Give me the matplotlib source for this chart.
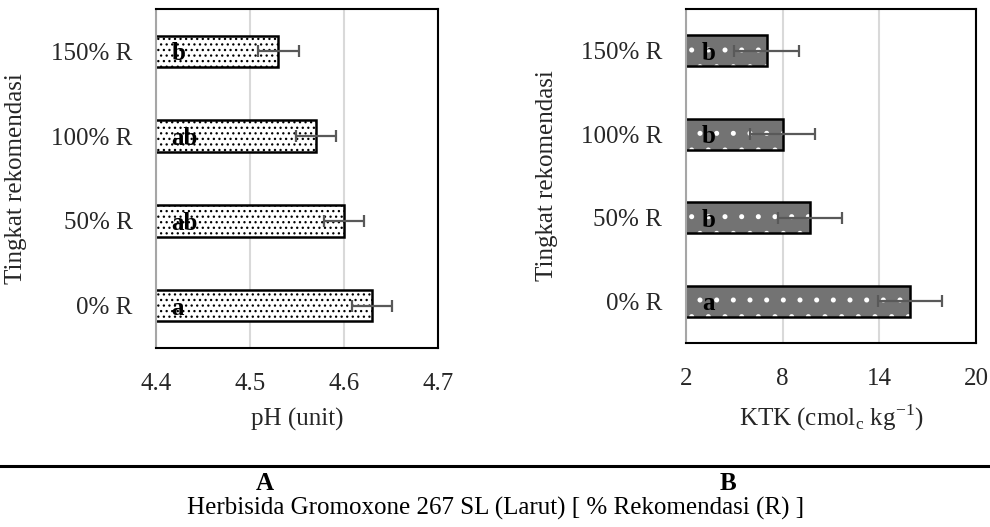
import numpy as np
import matplotlib
matplotlib.use("Agg")
import matplotlib.pyplot as plt
from matplotlib.lines import Line2D

plt.rcParams['font.family'] = ['Liberation Serif', 'DejaVu Serif']
plt.rcParams['mathtext.fontset'] = 'custom'
plt.rcParams['mathtext.rm'] = 'Liberation Serif'

# data
categories = ['0% R', '50% R', '100% R', '150% R']
ph_values = [4.63, 4.60, 4.57, 4.53]
ph_err = [0.021, 0.021, 0.021, 0.022]
ph_letters = ['a', 'ab', 'ab', 'b']
ph_ticks = [4.4, 4.5, 4.6, 4.7]

ktk_values = [15.9, 9.7, 8.0, 7.0]
ktk_err = [2.0, 2.0, 2.0, 2.0]
ktk_letters = ['a', 'b', 'b', 'b']
ktk_ticks = [2, 8, 14, 20]

fs = 18
fig = plt.figure(figsize=(9.9, 5.27), dpi=100)
ax1 = fig.add_axes([0.1576, 0.3397, 0.2848, 0.6433])
ax2 = fig.add_axes([0.6929, 0.3490, 0.2930, 0.6340])

y = np.arange(len(categories))


def style_axis(ax, ticks, xlabel):
    ax.set_xlim(ticks[0], ticks[-1])
    ax.set_xticks(ticks)
    ax.set_xticklabels([f'{t:g}' for t in ticks])
    ax.set_ylim(-0.5, len(categories) - 0.5)
    ax.set_yticks(y)
    ax.set_yticklabels(categories)
    ax.tick_params(length=0, labelsize=fs, colors='#262626')
    ax.tick_params(axis='y', pad=17)
    ax.tick_params(axis='x', pad=18)
    ax.grid(axis='x', color='#d9d9d9', lw=1.5)
    ax.set_axisbelow(True)
    for s in ['top', 'right', 'bottom']:
        ax.spines[s].set_color('black')
        ax.spines[s].set_linewidth(1.5)
    ax.spines['left'].set_color('#a6a6a6')
    ax.spines['left'].set_linewidth(1.5)
    ax.set_xlabel(xlabel, fontsize=fs, labelpad=9, color='#262626')
    ax.set_ylabel('Tingkat rekomendasi', fontsize=fs, color='#262626')


# panel A: pH
with plt.rc_context({'hatch.linewidth': 0.9}):
    ax1.barh(y, ph_values, height=0.37, color='white', edgecolor='black',
             hatch='...', lw=0)
ax1.barh(y, ph_values, height=0.37, color='none', edgecolor='black', lw=1.8)
ax1.errorbar(ph_values, y, xerr=ph_err, fmt='none', ecolor='#595959',
             elinewidth=1.6, capsize=4, capthick=1.6)
for yi, lab in zip(y, ph_letters):
    ax1.text(0.055, yi - 0.03, lab, transform=ax1.get_yaxis_transform(),
             ha='left', va='center', fontsize=fs, fontweight='bold')
style_axis(ax1, ph_ticks, 'pH (unit)')
ax1.yaxis.set_label_coords(-0.457, 0.5)

# panel B: KTK
with plt.rc_context({'hatch.linewidth': 1.2}):
    ax2.barh(y, ktk_values, height=0.37, color='#737373', edgecolor='white',
             hatch='.', lw=0)
ax2.barh(y, ktk_values, height=0.37, color='none', edgecolor='black', lw=1.8)
ax2.errorbar(ktk_values, y, xerr=ktk_err, fmt='none', ecolor='#595959',
             elinewidth=1.6, capsize=4, capthick=1.6)
for yi, lab in zip(y, ktk_letters):
    ax2.text(0.055, yi - 0.03, lab, transform=ax2.get_yaxis_transform(),
             ha='left', va='center', fontsize=fs, fontweight='bold')
style_axis(ax2, ktk_ticks, 'KTK (cmol$_{\\mathrm{c}}$ kg$^{\\mathrm{-1}}$)')
ax2.yaxis.set_label_coords(-0.441, 0.5)

# caption block below the panels
fig.add_artist(Line2D([0, 1], [0.1157, 0.1157], color='black', lw=2.2,
                      transform=fig.transFigure))
fig.text(0.2677, 0.0816, 'A', ha='center', va='center', fontsize=fs,
         fontweight='bold')
fig.text(0.7354, 0.0816, 'B', ha='center', va='center', fontsize=fs,
         fontweight='bold')
fig.text(0.501, 0.036, 'Herbisida Gromoxone 267 SL (Larut) [ % Rekomendasi (R) ]',
         ha='center', va='center', fontsize=fs)

fig.savefig('out.png', dpi=100)
